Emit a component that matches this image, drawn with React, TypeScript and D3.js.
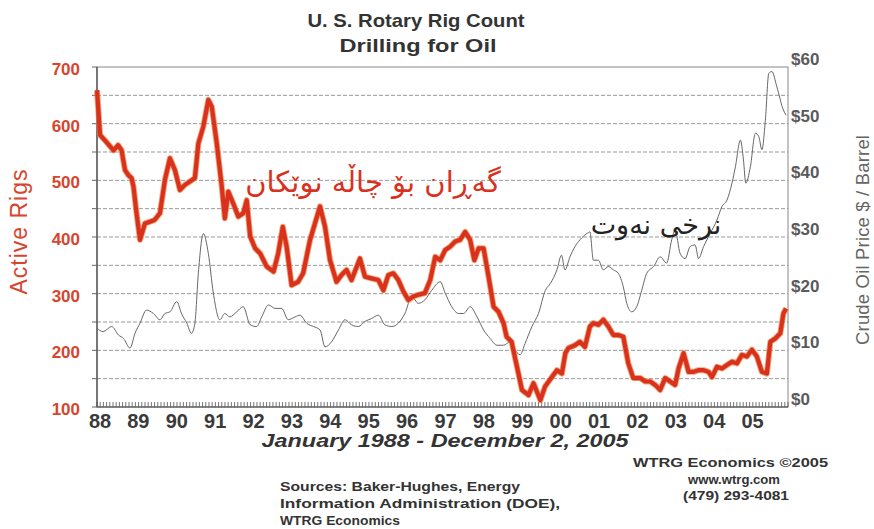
import React, { useEffect, useRef } from "react";
import * as d3 from "d3";

// Active oil rigs (weekly-ish readings, decimal year)
const rigYears = [
  1988.0, 1988.08, 1988.2, 1988.43, 1988.55, 1988.64, 1988.73, 1988.82, 1988.9, 1988.95,
  1989.03, 1989.12, 1989.25, 1989.38, 1989.5, 1989.64, 1989.77, 1989.9, 1990.03, 1990.16,
  1990.29, 1990.42, 1990.55, 1990.64, 1990.77, 1990.9, 1990.99, 1991.12, 1991.25, 1991.33,
  1991.42, 1991.55, 1991.68, 1991.81, 1991.9, 1991.99, 1992.12, 1992.25, 1992.42, 1992.6,
  1992.72, 1992.84, 1992.94, 1993.07, 1993.24, 1993.37, 1993.55, 1993.81, 1993.94, 1994.07,
  1994.24, 1994.37, 1994.5, 1994.63, 1994.85, 1994.98, 1995.15, 1995.33, 1995.46, 1995.59,
  1995.72, 1995.85, 1995.98, 1996.11, 1996.24, 1996.37, 1996.54, 1996.68, 1996.81, 1996.94,
  1997.07, 1997.2, 1997.33, 1997.46, 1997.59, 1997.72, 1997.83, 1997.94, 1998.07, 1998.2,
  1998.33, 1998.46, 1998.59, 1998.67, 1998.8, 1998.94, 1999.07, 1999.24, 1999.37, 1999.55,
  1999.67, 1999.85, 1999.98, 2000.11, 2000.2, 2000.28, 2000.45, 2000.58, 2000.71, 2000.84,
  2000.93, 2001.06, 2001.19, 2001.32, 2001.45, 2001.58, 2001.71, 2001.84, 2001.97, 2002.15,
  2002.28, 2002.41, 2002.54, 2002.67, 2002.8, 2002.93, 2003.06, 2003.15, 2003.28, 2003.41,
  2003.54, 2003.67, 2003.8, 2003.93, 2004.02, 2004.15, 2004.28, 2004.41, 2004.54, 2004.67,
  2004.8, 2004.93, 2005.06, 2005.19, 2005.32, 2005.45, 2005.54, 2005.67, 2005.8, 2005.88,
  2005.95,
];
const rigCounts = [
  659, 580, 571, 553, 562, 553, 518, 509, 504, 489,
  442, 395, 424, 427, 430, 442, 501, 539, 518, 483,
  492, 498, 504, 565, 595, 642, 630, 565, 489, 433,
  480, 459, 436, 442, 465, 401, 380, 371, 348, 339,
  371, 418, 383, 315, 321, 336, 395, 454, 418, 359,
  321, 333, 342, 324, 362, 330, 327, 324, 306, 333,
  336, 324, 304, 289, 295, 298, 301, 324, 365, 359,
  377, 383, 392, 395, 409, 395, 359, 380, 380, 330,
  277, 268, 248, 224, 215, 171, 130, 121, 142, 112,
  136, 153, 165, 159, 195, 204, 209, 215, 206, 242,
  248, 245, 254, 242, 227, 227, 224, 177, 151, 151,
  145, 145, 139, 130, 151, 145, 139, 168, 195, 162,
  162, 165, 165, 162, 153, 171, 168, 174, 180, 177,
  192, 189, 201, 189, 162, 159, 215, 221, 230, 265,
  274,
];

// Crude oil price, $ per barrel
const priceYears = [
  1988.0, 1988.16, 1988.38, 1988.56, 1988.69, 1988.86, 1988.99, 1989.12, 1989.29, 1989.47,
  1989.64, 1989.77, 1989.9, 1990.08, 1990.2, 1990.34, 1990.46, 1990.55, 1990.64, 1990.77,
  1990.9, 1991.03, 1991.2, 1991.33, 1991.46, 1991.64, 1991.81, 1991.99, 1992.16, 1992.29,
  1992.47, 1992.64, 1992.81, 1992.98, 1993.16, 1993.29, 1993.46, 1993.64, 1993.81, 1993.94,
  1994.11, 1994.29, 1994.46, 1994.63, 1994.81, 1994.98, 1995.15, 1995.33, 1995.5, 1995.68,
  1995.85, 1996.02, 1996.2, 1996.37, 1996.54, 1996.72, 1996.94, 1997.07, 1997.24, 1997.42,
  1997.55, 1997.72, 1997.9, 1998.07, 1998.24, 1998.42, 1998.59, 1998.76, 1998.89, 1999.02,
  1999.15, 1999.33, 1999.5, 1999.68, 1999.81, 1999.98, 2000.1, 2000.19, 2000.32, 2000.45,
  2000.58, 2000.76, 2000.84, 2000.93, 2001.06, 2001.19, 2001.32, 2001.45, 2001.58, 2001.71,
  2001.8, 2001.93, 2002.06, 2002.19, 2002.32, 2002.5, 2002.67, 2002.84, 2002.97, 2003.06,
  2003.19, 2003.32, 2003.45, 2003.58, 2003.67, 2003.8, 2003.97, 2004.15, 2004.28, 2004.41,
  2004.54, 2004.63, 2004.76, 2004.84, 2004.9, 2005.02, 2005.15, 2005.24, 2005.32, 2005.41,
  2005.5, 2005.58, 2005.71, 2005.88, 2005.95,
];
const prices = [
  13.9, 13.3, 14.2, 12.7, 12.1, 10.4, 13.0, 14.8, 17.1, 16.5,
  15.4, 16.5, 16.8, 18.6, 16.5, 14.8, 13.0, 14.8, 23.6, 30.6,
  27.1, 20.1, 15.4, 16.5, 15.9, 16.8, 17.7, 14.5, 14.2, 15.9,
  18.0, 17.4, 17.4, 15.4, 15.9, 16.2, 14.8, 14.2, 13.6, 10.6,
  11.5, 13.6, 15.4, 14.5, 14.2, 15.1, 15.6, 16.2, 14.5, 14.2,
  14.8, 16.5, 19.5, 18.3, 18.9, 20.6, 22.1, 20.1, 17.7, 16.5,
  16.5, 17.7, 15.9, 13.6, 12.1, 10.9, 10.9, 11.5, 10.1, 9.2,
  11.2, 14.2, 16.5, 20.6, 21.8, 24.2, 26.8, 24.2, 26.5, 28.3,
  29.5, 30.6, 30.9, 25.9, 25.9, 24.2, 24.8, 24.2, 23.6, 21.2,
  18.3, 16.8, 17.7, 20.6, 23.6, 24.8, 26.5, 25.4, 29.5, 31.2,
  27.1, 26.2, 28.3, 28.6, 26.2, 28.3, 30.6, 33.0, 35.4, 36.5,
  39.5, 42.4, 47.1, 43.6, 39.5, 42.4, 48.3, 47.7, 45.4, 50.6,
  58.9, 59.2, 56.5, 52.4, 51.5,
];

const yearLabels = ["88", "89", "90", "91", "92", "93", "94", "95", "96", "97", "98", "99", "00", "01", "02", "03", "04", "05"];
const rigTicks = [100, 200, 300, 400, 500, 600, 700];
const priceTicks = [0, 10, 20, 30, 40, 50, 60];

export default function App() {
  const ref = useRef<SVGSVGElement>(null);

  useEffect(() => {
    const width = 874;
    const height = 529;
    const left = 97, right = 788, top = 67, bottom = 407;
    const sans = "'Liberation Sans', Arial, sans-serif";
    const red = "#d8321e";

    const svg = d3.select(ref.current);
    svg.selectAll("*").remove();
    svg.attr("width", width).attr("height", height);
    svg.append("rect").attr("width", width).attr("height", height).attr("fill", "#fff");

    const x = d3.scaleLinear().domain([1988, 2006]).range([left, right]);
    const y = d3.scaleLinear().domain([100, 700]).range([bottom, top]);
    const yp = d3.scaleLinear().domain([0, 60]).range([bottom, top]);

    // dashed gridlines every 50 rigs
    const grid = d3.range(150, 700, 50);
    svg.append("g")
      .selectAll("line")
      .data(grid)
      .enter()
      .append("line")
      .attr("x1", left)
      .attr("x2", right)
      .attr("y1", (d) => y(d))
      .attr("y2", (d) => y(d))
      .attr("stroke", "#999")
      .attr("stroke-width", 1)
      .attr("stroke-dasharray", "4,2");

    // plot frame
    svg.append("rect")
      .attr("x", left).attr("y", top)
      .attr("width", right - left).attr("height", bottom - top)
      .attr("fill", "none").attr("stroke", "#888").attr("stroke-width", 1);
    svg.append("line")
      .attr("x1", left).attr("x2", left).attr("y1", top).attr("y2", bottom)
      .attr("stroke", "#444").attr("stroke-width", 1.2);
    svg.append("line")
      .attr("x1", left).attr("x2", right).attr("y1", bottom).attr("y2", bottom)
      .attr("stroke", "#444").attr("stroke-width", 1);

    // left ticks
    svg.append("g")
      .selectAll("line")
      .data(d3.range(100, 701, 50))
      .enter()
      .append("line")
      .attr("x1", left - 5).attr("x2", left)
      .attr("y1", (d) => y(d)).attr("y2", (d) => y(d))
      .attr("stroke", "#666");

    // monthly minor ticks along bottom
    const months = d3.range(0, 18 * 12 + 1).map((m) => 1988 + m / 12);
    svg.append("g")
      .selectAll("line")
      .data(months)
      .enter()
      .append("line")
      .attr("x1", (d) => x(d)).attr("x2", (d) => x(d))
      .attr("y1", bottom).attr("y2", bottom - 5)
      .attr("stroke", "#555").attr("stroke-width", 0.8);

    // oil price line
    const priceData = priceYears.map((t, i) => [t, prices[i]] as [number, number]);
    const priceLine = d3.line<[number, number]>()
      .x((d) => x(d[0]))
      .y((d) => yp(d[1]))
      .curve(d3.curveMonotoneX);
    svg.append("path")
      .datum(priceData)
      .attr("d", priceLine)
      .attr("fill", "none")
      .attr("stroke", "#666")
      .attr("stroke-width", 1);

    // rig count line
    const rigData = rigYears.map((t, i) => [t, rigCounts[i]] as [number, number]);
    const rigLine = d3.line<[number, number]>()
      .x((d) => x(d[0]))
      .y((d) => y(d[1]))
      .curve(d3.curveLinear);
    svg.append("path")
      .datum(rigData)
      .attr("d", rigLine)
      .attr("fill", "none")
      .attr("stroke", "#f07a3a")
      .attr("stroke-width", 6)
      .attr("stroke-linejoin", "round")
      .attr("opacity", 0.7);
    svg.append("path")
      .datum(rigData)
      .attr("d", rigLine)
      .attr("fill", "none")
      .attr("stroke", red)
      .attr("stroke-width", 4.2)
      .attr("stroke-linejoin", "round");

    // left tick labels
    svg.append("g")
      .selectAll("text")
      .data(rigTicks)
      .enter()
      .append("text")
      .attr("x", 80)
      .attr("y", (d) => y(d) + 8)
      .attr("text-anchor", "end")
      .attr("font-family", sans)
      .attr("font-weight", "bold")
      .attr("font-size", 17)
      .attr("fill", "#d8452e")
      .text((d) => d);

    // right tick labels
    svg.append("g")
      .selectAll("text")
      .data(priceTicks)
      .enter()
      .append("text")
      .attr("x", 791)
      .attr("y", (d) => yp(d) - 2)
      .attr("font-family", sans)
      .attr("font-weight", "bold")
      .attr("font-size", 17)
      .attr("fill", "#5a5a5a")
      .text((d) => "$" + d);

    // year labels
    svg.append("g")
      .selectAll("text")
      .data(yearLabels)
      .enter()
      .append("text")
      .attr("x", (d, i) => x(1988 + i) + 3)
      .attr("y", 428)
      .attr("text-anchor", "middle")
      .attr("font-family", sans)
      .attr("font-weight", "bold")
      .attr("font-size", 20)
      .attr("fill", "#3a3a3a")
      .text((d) => d);

    // axis titles
    svg.append("text")
      .attr("transform", "translate(27,232) rotate(-90)")
      .attr("text-anchor", "middle")
      .attr("font-family", sans)
      .attr("font-size", 23)
      .attr("fill", "#d8452e")
      .attr("textLength", 125)
      .text("Active Rigs");
    svg.append("text")
      .attr("transform", "translate(869,240) rotate(-90)")
      .attr("text-anchor", "middle")
      .attr("font-family", sans)
      .attr("font-size", 18.5)
      .attr("fill", "#666")
      .attr("textLength", 210)
      .text("Crude Oil Price $ / Barrel");

    // titles and notes
    const dark = "#333";
    const addText = (tx: number, ty: number, s: string, size: number, anchor: string, len?: number, weight = "bold", style = "normal", fill = dark, family = sans) => {
      const t = svg.append("text")
        .attr("x", tx).attr("y", ty)
        .attr("text-anchor", anchor)
        .attr("font-family", family)
        .attr("font-weight", weight)
        .attr("font-style", style)
        .attr("font-size", size)
        .attr("fill", fill)
        .text(s);
      if (len) t.attr("textLength", len).attr("lengthAdjust", "spacingAndGlyphs");
      return t;
    };

    addText(416, 27, "U. S. Rotary Rig Count", 19, "middle", 217);
    addText(418, 52, "Drilling for Oil", 19, "middle", 157);
    addText(445, 447, "January 1988 - December 2, 2005", 18.5, "middle", 367, "bold", "italic");
    addText(633, 467, "WTRG Economics  \u00a92005", 13, "start", 195);
    addText(688, 484, "www.wtrg.com", 13, "start", 92);
    addText(683, 500, "(479) 293-4081", 13, "start", 106);
    addText(280, 491, "Sources: Baker-Hughes, Energy", 12.5, "start", 240);
    addText(280, 508, "Information Administration (DOE),", 12.5, "start", 280);
    addText(280, 525, "WTRG Economics", 12.5, "start", 120);

    // Kurdish series labels
    const arabicFont = "'DejaVu Sans', 'Noto Sans', sans-serif";
    addText(373, 192, "گەڕان بۆ چاڵە نوێکان", 29, "middle", undefined, "normal", "normal", "#d8321e", arabicFont)
      .attr("direction", "rtl");
    addText(656, 234, "نرخی نەوت", 27, "middle", undefined, "normal", "normal", "#222", arabicFont)
      .attr("direction", "rtl");
  }, []);

  return (
    <div style={{ position: "absolute", left: 0, top: 0 }}>
      <svg ref={ref} style={{ display: "block" }}></svg>
    </div>
  );
}
